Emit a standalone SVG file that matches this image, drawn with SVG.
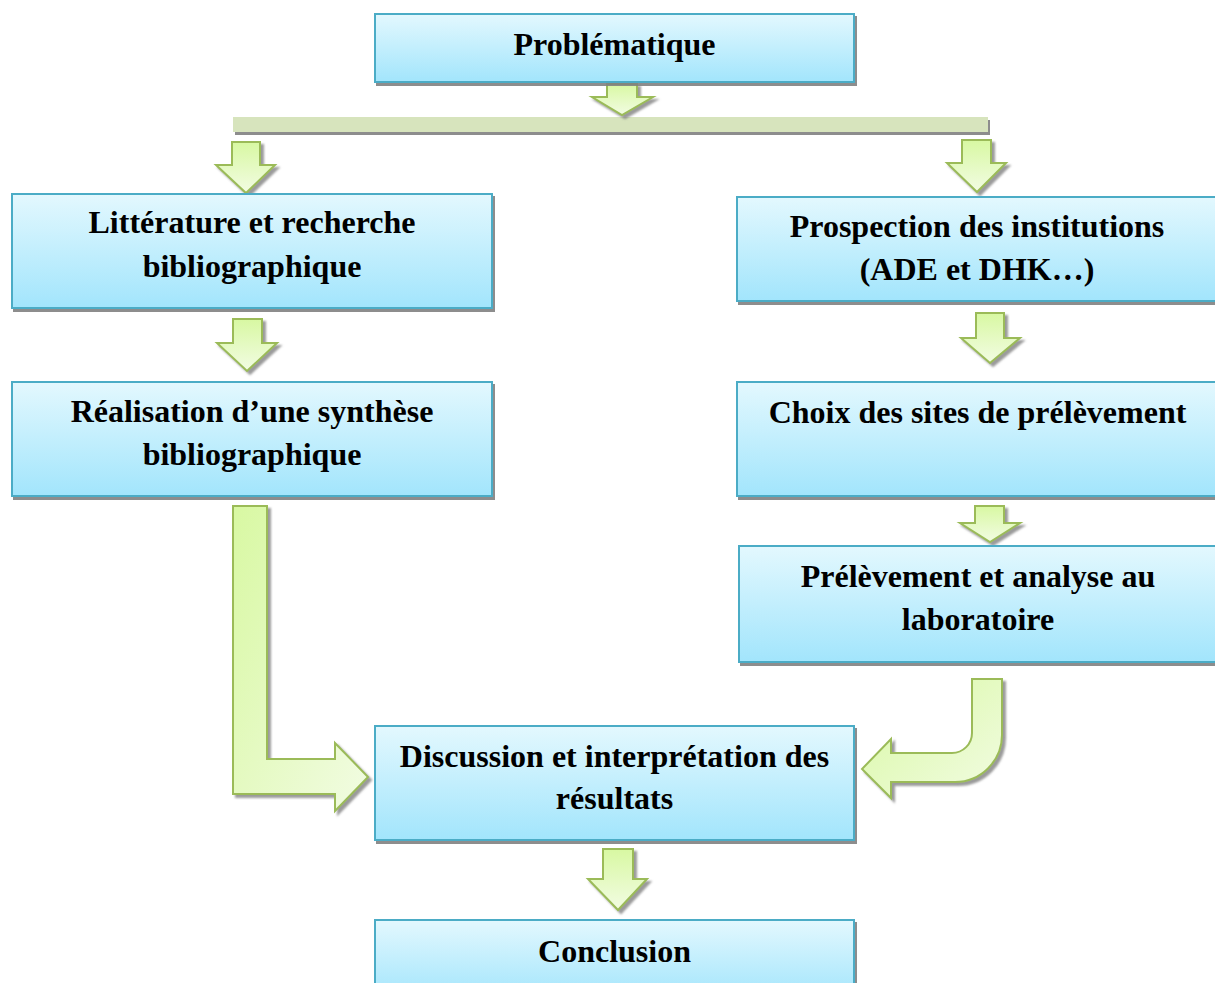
<svg xmlns="http://www.w3.org/2000/svg" width="1215" height="983" viewBox="0 0 1215 983">
<defs>
<linearGradient id="boxGrad" x1="0" y1="0" x2="0" y2="1">
<stop offset="0" stop-color="#e3f8fe"/>
<stop offset="1" stop-color="#a2e5fc"/>
</linearGradient>
<linearGradient id="arrGrad" x1="0" y1="0" x2="0" y2="1">
<stop offset="0" stop-color="#d8f8a2"/>
<stop offset="1" stop-color="#f2fce3"/>
</linearGradient>
<linearGradient id="lGrad" x1="0" y1="0" x2="1" y2="1">
<stop offset="0" stop-color="#d8f8a2"/>
<stop offset="1" stop-color="#f2fce3"/>
</linearGradient>
<filter id="boxShadow" x="-5%" y="-10%" width="110%" height="125%">
<feDropShadow dx="2" dy="3" stdDeviation="0.6" flood-color="#808080" flood-opacity="0.9"/>
</filter>
<filter id="arrShadow" x="-20%" y="-20%" width="140%" height="140%">
<feDropShadow dx="3" dy="3" stdDeviation="1" flood-color="#707070" flood-opacity="0.7"/>
</filter>
</defs>
<style>
.box{fill:url(#boxGrad);stroke:#4bacc6;stroke-width:2;filter:url(#boxShadow)}
.arr{fill:url(#arrGrad);stroke:#9bbb59;stroke-width:2;stroke-linejoin:miter;filter:url(#arrShadow)}
.larr{fill:url(#lGrad);stroke:#9bbb59;stroke-width:2;filter:url(#arrShadow)}
.t{font-family:"Liberation Serif","Times New Roman",serif;font-weight:bold;font-size:32px;fill:#000;text-anchor:middle}
</style>
<rect width="1215" height="983" fill="#ffffff"/>
<g id="connectors">
<rect x="233" y="117" width="755" height="15" fill="#d7e4bd" filter="url(#boxShadow)"/>
<path class="arr" d="M607,84 H637 V97 H653 L622,115 L592,97 H607 Z"/>
<path class="arr" d="M232,142 H260 V165 H275 L246,193 L216,165 H232 Z"/>
<path class="arr" d="M233,319 H262 V343 H277 L247,371 L217,343 H233 Z"/>
<path class="arr" d="M962,140 H991 V163 H1006 L977,192 L947,163 H962 Z"/>
<path class="arr" d="M976,313 H1004 V338 H1020 L990,363 L961,338 H976 Z"/>
<path class="arr" d="M975,506 H1004 V523 H1020 L990,542 L960,523 H975 Z"/>
<path class="arr" d="M603,849 H633 V879 H647 L618,910 L588,879 H603 Z"/>
<path class="larr" d="M233,506 H267 V759 H335 V743 L368,777 L335,811 V794 H233 Z"/>
<path class="larr" d="M972,679 H1002 V735 A47,47 0 0 1 955,782 H891 V798 L862,769 L891,739 V753 H952 A20,20 0 0 0 972,733 Z"/>
</g>
<g id="problematique">
<rect class="box" x="375" y="14" width="479" height="68"/>
<text class="t" x="614.5" y="55">Problématique</text>
</g>
<g id="litterature">
<rect class="box" x="12" y="194" width="480" height="114"/>
<text class="t" x="252" y="233">Littérature et recherche</text>
<text class="t" x="252" y="277">bibliographique</text>
</g>
<g id="realisation">
<rect class="box" x="12" y="382" width="480" height="114"/>
<text class="t" x="252" y="422">Réalisation d’une synthèse</text>
<text class="t" x="252" y="465">bibliographique</text>
</g>
<g id="prospection">
<rect class="box" x="737" y="197" width="480" height="104"/>
<text class="t" x="977" y="237">Prospection des institutions</text>
<text class="t" x="977" y="280">(ADE et DHK…)</text>
</g>
<g id="choix">
<rect class="box" x="737" y="382" width="480" height="114"/>
<text class="t" x="977.5" y="423">Choix des sites de prélèvement</text>
</g>
<g id="prelevement">
<rect class="box" x="739" y="546" width="480" height="116"/>
<text class="t" x="978" y="587">Prélèvement et analyse au</text>
<text class="t" x="978" y="630">laboratoire</text>
</g>
<g id="discussion">
<rect class="box" x="375" y="726" width="479" height="114"/>
<text class="t" x="614.5" y="767">Discussion et interprétation des</text>
<text class="t" x="614.5" y="809">résultats</text>
</g>
<g id="conclusion">
<rect class="box" x="375" y="920" width="479" height="80"/>
<text class="t" x="614.5" y="962">Conclusion</text>
</g>
</svg>
